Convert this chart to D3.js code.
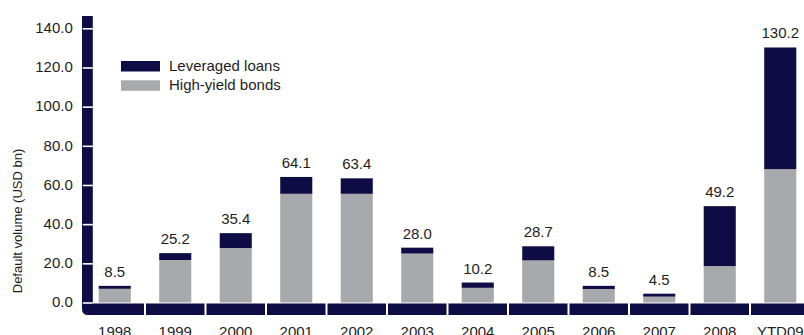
<!DOCTYPE html>
<html>
<head>
<meta charset="utf-8">
<script src="https://cdn.jsdelivr.net/npm/d3@7"></script>
<style>
  html, body { margin: 0; padding: 0; background: #fff; }
  svg { display: block; font-family: "Liberation Sans", Arial, sans-serif; }
</style>
</head>
<body>
<div id="chart"></div>
<script>
// Default volumes, USD bn
const years = ["1998", "1999", "2000", "2001", "2002", "2003", "2004", "2005", "2006", "2007", "2008", "YTD09"];
const highYield = [7.0, 21.7, 27.8, 55.5, 55.5, 25.0, 7.5, 21.5, 6.9, 3.0, 18.6, 68.1];
const loans = [1.5, 3.5, 7.6, 8.6, 7.9, 3.0, 2.7, 7.2, 1.6, 1.5, 30.6, 62.1];
const totals = [8.5, 25.2, 35.4, 64.1, 63.4, 28.0, 10.2, 28.7, 8.5, 4.5, 49.2, 130.2];
const yTicks = [0, 20, 40, 60, 80, 100, 120, 140];

(function () {
  const W = 804, H = 335;
  const navy = "#0d0c44";
  const grey = "#a8a9ad";
  const fs = "15px";

  const svg = d3.select("#chart").append("svg").attr("width", W).attr("height", H);

  const x = d3.scaleBand().domain(years).range([84.5, 810.5]).paddingInner(0.47).paddingOuter(0.235);
  const xBand = d3.scaleBand().domain(years).range([84.5, 810.5]);
  const y = d3.scaleLinear().domain([0, 140]).range([302.5, 28.3]);

  const data = years.map((yr, i) => ({ yr, hy: highYield[i], ll: loans[i], total: totals[i] }));

  // bars
  const g = svg.append("g");
  g.selectAll(".hy").data(data).join("rect")
    .attr("class", "hy")
    .attr("x", d => x(d.yr)).attr("width", x.bandwidth())
    .attr("y", d => y(d.hy)).attr("height", d => y(0) - y(d.hy))
    .attr("fill", grey);
  g.selectAll(".ll").data(data).join("rect")
    .attr("class", "ll")
    .attr("x", d => x(d.yr)).attr("width", x.bandwidth())
    .attr("y", d => y(d.hy + d.ll)).attr("height", d => y(d.hy) - y(d.hy + d.ll))
    .attr("fill", navy);
  g.selectAll(".val").data(data).join("text")
    .attr("class", "val")
    .attr("x", d => x(d.yr) + x.bandwidth() / 2)
    .attr("y", d => y(d.total) - 9)
    .attr("text-anchor", "middle")
    .attr("font-size", fs)
    .attr("fill", "#1e1e1e")
    .text(d => d.total.toFixed(1));

  // heavy axis frame: vertical bar with rounded corner + category bands
  const top = 16, bandTop = 303.5, bandBot = 315, left = 82, barR = 92.8, r = 6;
  svg.append("path")
    .attr("d", `M${left},${top}H${barR}V${bandTop}H${xBand(years[0]) + xBand.bandwidth() - 1}V${bandBot}H${left + r}Q${left},${bandBot} ${left},${bandBot - r}Z`)
    .attr("fill", navy);
  svg.selectAll(".band").data(years.slice(1)).join("rect")
    .attr("class", "band")
    .attr("x", d => xBand(d) + 1)
    .attr("width", xBand.bandwidth() - 2)
    .attr("y", bandTop).attr("height", bandBot - bandTop)
    .attr("fill", navy);

  // y axis: white tick notches cut through the bar
  const yAxis = svg.append("g")
    .attr("transform", `translate(${barR},0)`)
    .call(d3.axisLeft(y).tickValues(yTicks).tickFormat(d3.format(".1f")).tickSize(10).tickPadding(10));
  yAxis.select(".domain").remove();
  yAxis.selectAll(".tick line").attr("stroke", "#fff").attr("stroke-width", 1.6);
  yAxis.selectAll(".tick text")
    .attr("font-size", fs).attr("font-family", "Liberation Sans, Arial, sans-serif")
    .attr("fill", "#1e1e1e").attr("dy", "0.28em");

  // x axis labels
  const xAxis = svg.append("g")
    .attr("transform", `translate(0,${bandBot})`)
    .call(d3.axisBottom(xBand).tickSize(0).tickPadding(11.5));
  xAxis.select(".domain").remove();
  xAxis.selectAll(".tick text")
    .attr("font-size", fs).attr("font-family", "Liberation Sans, Arial, sans-serif")
    .attr("fill", "#1e1e1e");

  // y title
  svg.append("text")
    .attr("transform", "translate(22,221) rotate(-90)")
    .attr("text-anchor", "middle")
    .attr("font-size", "13px")
    .attr("fill", "#1e1e1e")
    .text("Default volume (USD bn)");

  // legend
  const legend = [
    { label: "Leveraged loans", color: navy },
    { label: "High-yield bonds", color: grey }
  ];
  const lg = svg.append("g").selectAll("g").data(legend).join("g")
    .attr("transform", (d, i) => `translate(121,${61 + i * 19.3})`);
  lg.append("rect").attr("width", 39).attr("height", 10.5).attr("fill", d => d.color);
  lg.append("text").attr("x", 48).attr("y", 10).attr("font-size", fs).attr("fill", "#1e1e1e").text(d => d.label);
})();
</script>
</body>
</html>
